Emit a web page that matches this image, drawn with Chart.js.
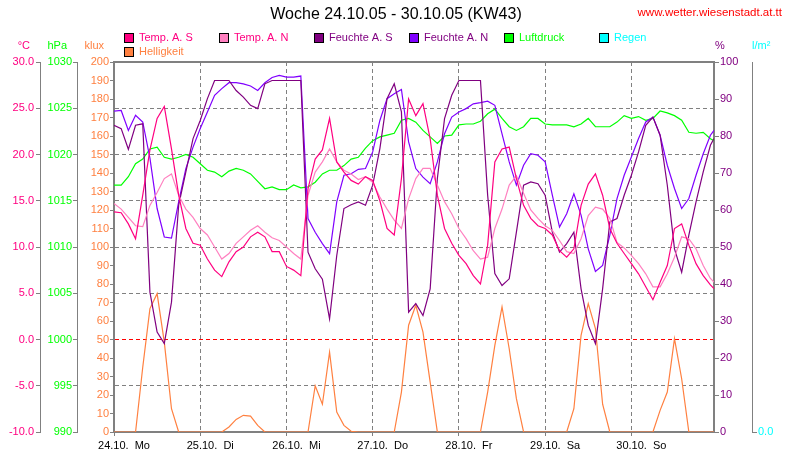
<!DOCTYPE html>
<html>
<head>
<meta charset="utf-8">
<title>Woche 24.10.05 - 30.10.05 (KW43)</title>
<style>
  html, body { margin: 0; padding: 0; background: #fff; }
  #wrap { width: 790px; height: 460px; }
</style>
<script src="https://cdn.jsdelivr.net/npm/chart.js@4.4.0/dist/chart.umd.min.js"></script>
</head>
<body>
<div id="wrap"><canvas id="wetterChart"></canvas></div>
<script>
// Stunden seit Mo 24.10. 00:00 (2-Stunden-Raster, letzter Wert 23:00 So)
const hours = [0, 2, 4, 6, 8, 10, 12, 14, 16, 18, 20, 22, 24, 26, 28, 30, 32,
  34, 36, 38, 40, 42, 44, 46, 48, 50, 52, 54, 56, 58, 60, 62, 64, 66,
  68, 70, 72, 74, 76, 78, 80, 82, 84, 86, 88, 90, 92, 94, 96, 98, 100,
  102, 104, 106, 108, 110, 112, 114, 116, 118, 120, 122, 124, 126, 128, 130, 132,
  134, 136, 138, 140, 142, 144, 146, 148, 150, 152, 154, 156, 158, 160, 162, 164, 166, 167];

const dayLabels = ['24.10.  Mo', '25.10.  Di', '26.10.  Mi', '27.10.  Do', '28.10.  Fr', '29.10.  Sa', '30.10.  So'];

// Temperatur aussen Sued (°C)
const tempS = [13.8, 13.7, 12.5, 10.9, 15.6, 20.5, 23.9, 25.2, 20.6, 15.6, 12.0, 10.4, 10.2, 8.7, 7.5, 6.8, 8.4,
  9.5, 10.0, 11.1, 11.6, 11.1, 9.5, 9.5, 7.9, 7.5, 6.9, 16.3, 19.5, 20.5, 23.9, 19.2, 18.1, 17.2,
  16.8, 17.6, 17.2, 15.0, 12.0, 11.3, 17.4, 26.0, 24.2, 25.5, 21.7, 15.6, 12.0, 10.4, 9.1, 8.2, 6.9,
  6.0, 10.2, 19.2, 20.6, 20.8, 17.4, 14.5, 13.1, 12.3, 12.0, 11.3, 9.6, 8.9, 9.8, 14.5, 16.8,
  17.9, 15.6, 12.0, 10.4, 9.3, 8.2, 7.1, 5.7, 4.3, 6.2, 8.0, 12.0, 12.5, 10.2, 8.2, 6.9, 5.9, 5.5];

// Temperatur aussen Nord (°C)
const tempN = [14.7, 14.1, 13.2, 12.3, 12.2, 14.5, 15.9, 17.4, 17.9, 15.6, 14.1, 13.2, 12.0, 11.3, 10.0, 8.7, 9.3,
  10.4, 11.1, 11.8, 12.3, 11.6, 11.0, 10.7, 10.0, 9.3, 8.7, 15.6, 18.1, 19.2, 20.6, 19.2, 18.3, 17.9,
  17.3, 17.6, 17.0, 15.4, 14.1, 12.9, 12.0, 15.2, 17.4, 18.5, 18.5, 16.7, 14.9, 13.6, 12.0, 10.9, 9.6,
  8.7, 8.9, 12.0, 14.1, 16.7, 17.7, 15.8, 14.0, 13.1, 12.3, 11.8, 10.7, 9.5, 9.3, 10.9, 13.4,
  14.3, 14.1, 13.1, 10.5, 9.9, 9.1, 8.2, 7.1, 5.7, 5.7, 7.1, 8.9, 11.1, 10.9, 9.8, 8.0, 6.6, 6.2];

// Feuchte aussen Sued (%)
const feuchteS = [82.9, 82.0, 76.4, 82.9, 83.3, 37.8, 27.0, 23.9, 35.1, 61.3, 70.3, 79.3, 84.2, 90.1, 95, 95, 95,
  92.3, 90.5, 88.3, 87.4, 94.1, 95, 95, 95, 95, 95, 48.6, 44.1, 41.3, 30.6, 47.7, 60.4, 61.4,
  62.2, 61.3, 66.7, 76.6, 90.1, 94.1, 86.5, 32.4, 34.7, 31.5, 38.7, 68.5, 84.7, 91, 95, 95, 95,
  95, 64, 42.8, 39.6, 41.4, 54, 66.7, 67.6, 67.1, 64, 54, 48.6, 50.9, 54, 38.7, 28.8,
  23.9, 38.7, 56.8, 57.7, 64, 69.4, 75.7, 82.9, 85.1, 80.2, 66.7, 49.5, 43.2, 53.2, 62.2, 70.3, 77.5, 79.3];

// Feuchte aussen Nord (%)
const feuchteN = [86.7, 86.9, 81.5, 85.6, 83.8, 74.0, 60.4, 52.7, 52.4, 62.2, 71.2, 77.0, 82.0, 86.5, 91.0, 92.8, 94.4,
  94.4, 94.1, 93.5, 92.3, 94.4, 95.8, 96.4, 95.9, 95.9, 96.2, 57.7, 54.0, 50.9, 48.2, 62.2, 69.4, 69.8,
  71.0, 71.2, 75.7, 84.2, 90.1, 91.4, 92.6, 78.4, 71.2, 68.9, 67.1, 73.0, 80.6, 85.1, 86.5, 87.4, 88.7,
  89.0, 89.4, 88.3, 80.6, 73.0, 66.7, 72.1, 75.2, 74.8, 73.0, 64.0, 55.4, 59.0, 64.4, 58.6, 49.5,
  43.4, 45.0, 53.2, 63.1, 69.4, 74.3, 79.3, 83.8, 85.1, 80.2, 72.1, 65.8, 60.4, 63.1, 69.4, 75.2, 80.2, 81.5];

// Luftdruck (hPa)
const luftdruck = [1016.7, 1016.7, 1017.6, 1019.0, 1019.5, 1020.6, 1020.8, 1019.7, 1019.5, 1019.7, 1020.0, 1019.7, 1019.0, 1018.3, 1018.1, 1017.6, 1018.2,
  1018.5, 1018.3, 1017.9, 1017.1, 1016.3, 1016.5, 1016.2, 1016.2, 1016.7, 1016.4, 1016.5, 1017.0, 1017.9, 1018.3, 1018.3, 1018.8, 1019.5,
  1019.7, 1020.7, 1021.5, 1021.9, 1022.1, 1022.3, 1023.7, 1023.9, 1023.5, 1022.6, 1021.9, 1021.2, 1022.0, 1022.1, 1023.2, 1023.3, 1023.3,
  1023.6, 1024.4, 1024.9, 1023.9, 1023.0, 1022.6, 1023.0, 1023.9, 1023.9, 1023.3, 1023.2, 1023.2, 1023.2, 1023.0, 1023.3, 1023.9,
  1023.0, 1023.0, 1023.0, 1023.5, 1024.2, 1023.9, 1024.1, 1023.7, 1023.9, 1024.7, 1024.5, 1024.2, 1023.7, 1022.4, 1022.3, 1022.4, 1021.7, 1021.5];

// Helligkeit (klux)
const helligkeit = [0, 0, 0, 0, 35, 66.7, 74.8, 48.6, 12.6, 0, 0, 0, 0, 0, 0, 0, 2.7,
  6.8, 9.0, 8.6, 3.6, 0, 0, 0, 0, 0, 0, 0, 25, 15, 43.2, 10.8, 3.6, 0.4,
  0, 0, 0, 0, 0, 0, 21.6, 57.7, 68.5, 54, 27, 0, 0, 0, 0, 0, 0,
  0, 21.6, 46.8, 67.6, 45, 18, 0, 0, 0, 0, 0, 0, 0, 12.6, 52.3, 69.4,
  55.9, 15, 0, 0, 0, 0, 0, 0, 0, 11.7, 21.6, 50.5, 28.8, 0, 0, 0, 0, 0];

// Regen (l/m²) - in dieser Woche kein Niederschlag
const regen = [];

const gray = '#808080';
const fontFam = '"Liberation Sans", Arial, sans-serif';
const titel = 'Woche 24.10.05 - 30.10.05 (KW43)';
const webseite = 'www.wetter.wiesenstadt.at.tt';
const legendText = ['#FF0080', '#FF0080', '#800080', '#800080', '#00FF00', '#00FFFF', '#FF8040'];

function pts(vals) {
  return vals.map((v, i) => ({ x: hours[i], y: v }));
}

function serie(label, vals, color, axis) {
  return {
    label: label,
    data: pts(vals),
    borderColor: color,
    backgroundColor: color,
    borderWidth: 1.2,
    pointRadius: 0,
    tension: 0,
    yAxisID: axis,
  };
}

Chart.defaults.font.family = fontFam;
Chart.defaults.font.size = 11;

// Titel, Legende und Einheiten
const kopfPlugin = {
  id: 'kopf',
  afterDraw(chart) {
    const c = chart.ctx;
    const s = chart.scales;
    c.save();
    c.textBaseline = 'middle';
    c.font = '16px ' + fontFam;
    c.fillStyle = '#000';
    c.textAlign = 'center';
    c.fillText(titel, chart.width / 2 + 1, 15);
    c.font = '11.5px ' + fontFam;
    c.fillStyle = '#FF0000';
    c.textAlign = 'right';
    c.fillText(webseite, 782, 13);

    c.font = '11px ' + fontFam;
    chart.data.datasets.forEach((ds, i) => {
      const x = 124 + (i % 6) * 95;
      const y = 38 + Math.floor(i / 6) * 14;
      c.fillStyle = ds.backgroundColor;
      c.fillRect(x, y - 5, 10, 10);
      c.strokeStyle = '#000';
      c.lineWidth = 1;
      c.strokeRect(x + 0.5, y - 4.5, 9, 9);
      c.fillStyle = legendText[i];
      c.textAlign = 'left';
      c.fillText(ds.label, x + 15, y);
    });

    c.textAlign = 'right';
    c.fillStyle = '#FF0080';
    c.fillText('°C', s.yT.right - 10, 46);
    c.fillStyle = '#00FF00';
    c.fillText('hPa', s.yP.right - 10, 46);
    c.fillStyle = '#FF8040';
    c.fillText('klux', s.yL.right - 10, 46);
    c.textAlign = 'left';
    c.fillStyle = '#800080';
    c.fillText('%', s.yH.left + 1, 46);
    c.fillStyle = '#00FFFF';
    c.fillText('l/m²', s.yR.left, 46);
    c.restore();
  }
};

const ctx = document.getElementById('wetterChart');
new Chart(ctx, {
  type: 'line',
  data: {
    datasets: [
      serie('Temp. A. S', tempS, '#FF0080', 'yT'),
      serie('Temp. A. N', tempN, '#FF80C0', 'yT'),
      serie('Feuchte A. S', feuchteS, '#800080', 'yH'),
      serie('Feuchte A. N', feuchteN, '#8000FF', 'yH'),
      serie('Luftdruck', luftdruck, '#00FF00', 'yP'),
      serie('Regen', regen, '#00FFFF', 'yR'),
      serie('Helligkeit', helligkeit, '#FF8040', 'yL'),
    ]
  },
  plugins: [kopfPlugin],
  options: {
    responsive: true,
    maintainAspectRatio: false,
    animation: false,
    events: [],
    layout: {
      padding: { top: 62, left: 0, right: 0, bottom: 0 }
    },
    plugins: {
      legend: { display: false },
      title: { display: false },
      tooltip: { enabled: false },
    },
    scales: {
      x: {
        type: 'linear',
        position: 'bottom',
        min: 0,
        max: 167,
        afterBuildTicks: (s) => { s.ticks = dayLabels.map((l, i) => ({ value: i * 24 })); },
        afterFit: (s) => { s.height = 28; },
        ticks: {
          color: '#000',
          padding: 3,
          labelOffset: 10,
          maxRotation: 0,
          autoSkip: false,
          callback: (v, i) => dayLabels[i],
        },
        grid: { color: gray, tickColor: gray, tickLength: 4, lineWidth: 1 },
        border: { color: gray, width: 2, dash: [4, 3] },
      },
      x2: {
        type: 'linear',
        position: 'top',
        min: 0,
        max: 167,
        afterFit: (s) => { s.height = 0; },
        ticks: { display: false },
        grid: { display: false },
        border: { color: gray, width: 2 },
      },
      yT: {
        position: 'left',
        weight: 2,
        min: -10,
        max: 30,
        afterFit: (s) => { s.width = 40; },
        ticks: {
          stepSize: 5,
          color: '#FF0080',
          padding: 2,
          callback: (v) => v.toFixed(1),
        },
        grid: {
          color: (c) => (c.tick && c.tick.value === 0 ? '#FF0000' : gray),
          tickColor: gray,
          tickLength: 4,
          lineWidth: 1,
        },
        border: { color: gray, width: 1, dash: [4, 3] },
      },
      yP: {
        position: 'left',
        weight: 1,
        min: 990,
        max: 1030,
        afterFit: (s) => { s.width = 37; },
        ticks: { stepSize: 5, color: '#00FF00', padding: 1, callback: (v) => String(v) },
        grid: { drawOnChartArea: false, color: gray, tickLength: 4 },
        border: { color: gray, width: 1 },
      },
      yL: {
        position: 'left',
        weight: 0,
        min: 0,
        max: 200,
        afterFit: (s) => { s.width = 37; },
        ticks: { stepSize: 10, color: '#FF8040', padding: 1, autoSkip: false, callback: (v) => String(v) },
        grid: { drawOnChartArea: false, color: gray, tickLength: 4 },
        border: { color: gray, width: 2 },
      },
      yH: {
        position: 'right',
        weight: 0,
        min: 0,
        max: 100,
        afterFit: (s) => { s.width = 38; },
        ticks: { stepSize: 10, color: '#800080', padding: 1, autoSkip: false, callback: (v) => String(v) },
        grid: { drawOnChartArea: false, color: gray, tickLength: 5 },
        border: { color: gray, width: 2 },
      },
      yR: {
        position: 'right',
        weight: 1,
        min: 0,
        max: 1,
        afterFit: (s) => { s.width = 38; },
        afterBuildTicks: (s) => { s.ticks = [{ value: 0 }]; },
        ticks: { color: '#00FFFF', padding: 1, callback: (v) => v.toFixed(1) },
        grid: { drawOnChartArea: false, color: gray, tickLength: 5 },
        border: { color: gray, width: 1 },
      },
    }
  }
});
</script>
</body>
</html>
